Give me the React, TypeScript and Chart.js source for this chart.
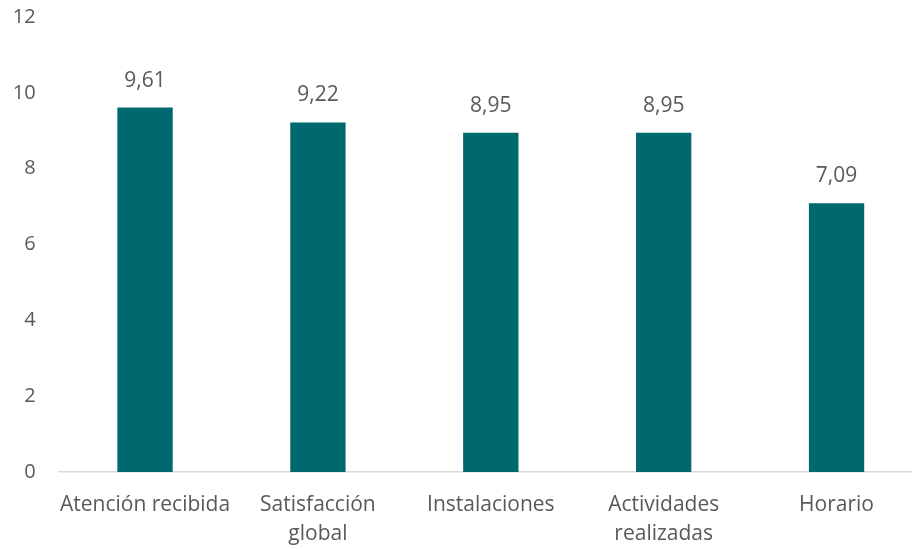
import React, { useEffect, useRef } from "react";
import { Chart, registerables } from "chart.js";

Chart.register(...registerables);

const categories: (string | string[])[] = [
  "Atención recibida",
  ["Satisfacción", "global"],
  "Instalaciones",
  ["Actividades", "realizadas"],
  "Horario",
];
const values: number[] = [9.61, 9.22, 8.95, 8.95, 7.09];
const yTicks: number[] = [0, 2, 4, 6, 8, 10, 12];

const FONT = "'Open Sans'";
const TEXT = "#595959";
const BAR = "#00686F";

const valueLabels = {
  id: "valueLabels",
  afterDatasetsDraw(chart: any) {
    const ctx = chart.ctx;
    const meta = chart.getDatasetMeta(0);
    ctx.save();
    ctx.fillStyle = TEXT;
    ctx.font = `21px ${FONT}`;
    ctx.textAlign = "center";
    ctx.textBaseline = "middle";
    meta.data.forEach((el: any, i: number) => {
      const v = values[i];
      ctx.fillText(v.toFixed(2).replace(".", ","), el.x, el.y - 27);
    });
    ctx.restore();
  },
};

export default function App() {
  const ref = useRef<HTMLCanvasElement | null>(null);
  useEffect(() => {
    if (!ref.current) return;
    const chart = new Chart(ref.current, {
      type: "bar",
      data: {
        labels: categories,
        datasets: [
          {
            data: values,
            backgroundColor: BAR,
            barPercentage: 0.64,
            categoryPercentage: 0.5,
          },
        ],
      },
      options: {
        animation: false,
        responsive: true,
        maintainAspectRatio: false,
        layout: { padding: { top: 4, right: 0, left: 0, bottom: 0 } },
        plugins: { legend: { display: false }, tooltip: { enabled: false } },
        scales: {
          x: {
            grid: { display: false, drawTicks: false },
            border: { display: true, color: "#D9D9D9", width: 1.5 },
            ticks: {
              color: TEXT,
              font: { family: FONT, size: 21, lineHeight: 1.38 },
              padding: 19,
              maxRotation: 0,
              autoSkip: false,
            },
            afterFit: (s: any) => {
              s.height = 77;
            },
          },
          y: {
            min: 0,
            max: 12,
            grid: { display: false, drawTicks: false },
            border: { display: false },
            afterBuildTicks: (s: any) => {
              s.ticks = yTicks.map((v) => ({ value: v }));
            },
            ticks: {
              color: TEXT,
              font: { family: FONT, size: 20 },
              padding: 23,
            },
            afterFit: (s: any) => {
              s.width = 58.6;
            },
          },
        },
      },
      plugins: [valueLabels],
    });
    return () => chart.destroy();
  }, []);
  return (
    <div
      style={{
        position: "fixed",
        left: 0,
        top: 0,
        width: 912,
        height: 549,
        overflow: "hidden",
        background: "#fff",
      }}
    >
      <div style={{ position: "absolute", left: 0, top: -18, width: 923, height: 567 }}>
        <canvas ref={ref} />
      </div>
    </div>
  );
}
